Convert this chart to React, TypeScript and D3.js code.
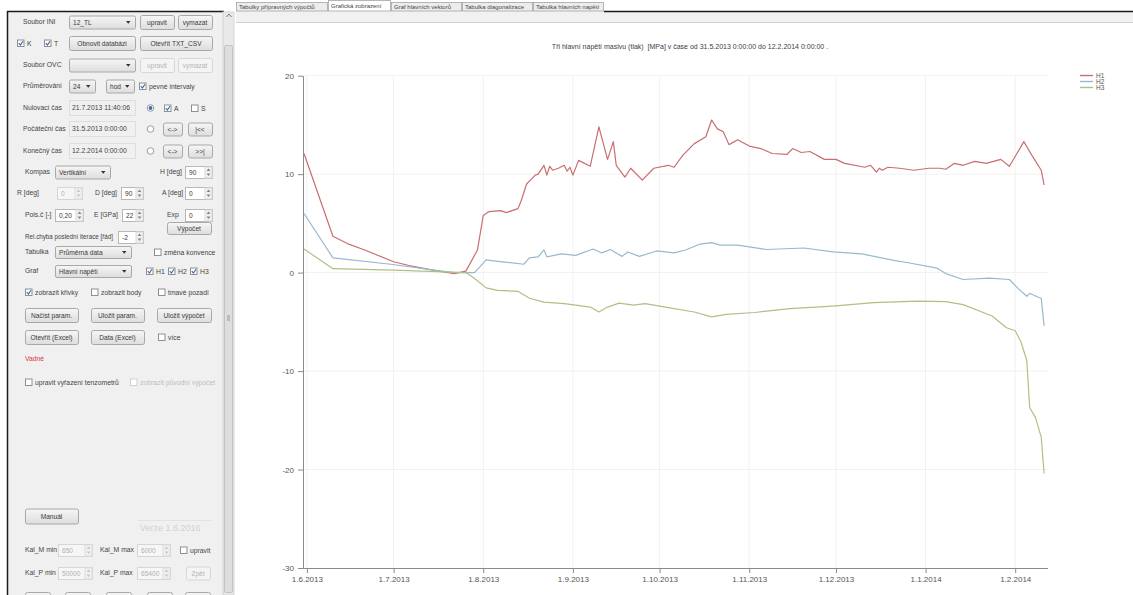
import React, { useEffect, useRef } from "react";
import * as d3 from "d3";

// hlavni napeti [MPa], denni prumery
const H1: [string, number][] = [
  ["2013-05-31", 12.1], ["2013-06-10", 3.7], ["2013-06-15", 2.95], ["2013-06-21", 2.3],
  ["2013-07-01", 1.1], ["2013-07-06", 0.75], ["2013-07-15", 0.23], ["2013-07-22", -0.1],
  ["2013-07-26", 0.15], ["2013-07-30", 2.3], ["2013-08-01", 5.8], ["2013-08-03", 6.2],
  ["2013-08-07", 6.3], ["2013-08-09", 6.1], ["2013-08-13", 6.5], ["2013-08-14", 7.2],
  ["2013-08-16", 9.0], ["2013-08-18", 9.6], ["2013-08-19", 9.9], ["2013-08-20", 10.0],
  ["2013-08-22", 10.9], ["2013-08-23", 9.9], ["2013-08-24", 10.8], ["2013-08-25", 10.4],
  ["2013-08-27", 10.6], ["2013-08-29", 10.9], ["2013-08-30", 10.3], ["2013-08-31", 10.7],
  ["2013-09-01", 9.9], ["2013-09-03", 11.4], ["2013-09-07", 10.8], ["2013-09-10", 14.8],
  ["2013-09-13", 11.5], ["2013-09-15", 13.3], ["2013-09-16", 10.9], ["2013-09-19", 9.7],
  ["2013-09-21", 10.6], ["2013-09-25", 9.4], ["2013-09-29", 10.6], ["2013-10-04", 10.9],
  ["2013-10-06", 10.7], ["2013-10-09", 11.9], ["2013-10-13", 13.1], ["2013-10-17", 13.8],
  ["2013-10-19", 15.5], ["2013-10-21", 14.6], ["2013-10-23", 14.3], ["2013-10-25", 13.0],
  ["2013-10-28", 13.5], ["2013-11-01", 12.85], ["2013-11-05", 12.6], ["2013-11-09", 12.1],
  ["2013-11-14", 12.0], ["2013-11-16", 12.6], ["2013-11-19", 12.2], ["2013-11-22", 12.3],
  ["2013-11-27", 11.5], ["2013-12-01", 11.5], ["2013-12-04", 11.1], ["2013-12-11", 10.7],
  ["2013-12-13", 10.9], ["2013-12-15", 10.2], ["2013-12-16", 10.6], ["2013-12-17", 10.4],
  ["2013-12-19", 10.7], ["2013-12-23", 10.6], ["2013-12-28", 10.4], ["2014-01-02", 10.6],
  ["2014-01-06", 10.6], ["2014-01-08", 10.5], ["2014-01-11", 11.1], ["2014-01-14", 10.9],
  ["2014-01-18", 11.3], ["2014-01-22", 11.1], ["2014-01-27", 11.5], ["2014-01-30", 10.8],
  ["2014-02-04", 13.3], ["2014-02-07", 11.8], ["2014-02-10", 10.4], ["2014-02-11", 8.9],
];

const H2: [string, number][] = [
  ["2013-05-31", 6.0], ["2013-06-10", 1.5], ["2013-06-30", 0.85], ["2013-07-15", 0.25],
  ["2013-07-22", 0.0], ["2013-07-29", 0.0], ["2013-08-02", 1.3], ["2013-08-06", 1.15],
  ["2013-08-15", 0.85], ["2013-08-17", 1.5], ["2013-08-20", 1.6], ["2013-08-22", 2.3],
  ["2013-08-23", 1.6], ["2013-08-28", 1.9], ["2013-09-02", 1.75], ["2013-09-08", 2.4],
  ["2013-09-11", 2.0], ["2013-09-14", 2.35], ["2013-09-16", 2.0], ["2013-09-18", 1.65],
  ["2013-09-20", 2.1], ["2013-09-24", 1.65], ["2013-09-30", 2.2], ["2013-10-06", 2.0],
  ["2013-10-10", 2.3], ["2013-10-15", 2.9], ["2013-10-19", 3.05], ["2013-10-22", 2.8],
  ["2013-10-28", 2.8], ["2013-11-07", 2.35], ["2013-11-20", 2.5], ["2013-11-30", 2.1],
  ["2013-12-10", 1.9], ["2013-12-21", 1.25], ["2013-12-26", 1.0], ["2014-01-05", 0.45],
  ["2014-01-08", -0.1], ["2014-01-14", -0.7], ["2014-01-23", -0.55], ["2014-01-30", -0.7],
  ["2014-02-02", -1.6], ["2014-02-05", -2.4], ["2014-02-06", -2.1], ["2014-02-09", -2.5],
  ["2014-02-10", -2.6], ["2014-02-11", -5.4],
];

const H3: [string, number][] = [
  ["2013-05-31", 2.4], ["2013-06-10", 0.4], ["2013-07-01", 0.25], ["2013-07-26", 0.0],
  ["2013-07-29", -0.6], ["2013-08-02", -1.55], ["2013-08-06", -1.8], ["2013-08-13", -1.9],
  ["2013-08-17", -2.6], ["2013-08-22", -3.0], ["2013-08-29", -3.15], ["2013-09-02", -3.3],
  ["2013-09-07", -3.5], ["2013-09-10", -4.0], ["2013-09-13", -3.5], ["2013-09-17", -3.1],
  ["2013-09-22", -3.3], ["2013-09-26", -3.15], ["2013-10-03", -3.5], ["2013-10-13", -4.0],
  ["2013-10-19", -4.5], ["2013-10-24", -4.25], ["2013-11-03", -4.05], ["2013-11-15", -3.65],
  ["2013-11-27", -3.45], ["2013-12-02", -3.35], ["2013-12-14", -3.05], ["2013-12-29", -2.9],
  ["2014-01-08", -2.95], ["2014-01-14", -3.25], ["2014-01-24", -4.4], ["2014-01-29", -5.6],
  ["2014-02-01", -5.9], ["2014-02-03", -7.05], ["2014-02-05", -8.9], ["2014-02-06", -13.7],
  ["2014-02-08", -14.7], ["2014-02-10", -16.7], ["2014-02-11", -20.4],
];

const SERIES_NAMES = ["H1", "H2", "H3"];
const SERIES_COLORS = ["#cb6c6f", "#97b9ce", "#afc086"];
const Y_TICKS = [-30, -20, -10, 0, 10, 20];
const X_TICKS = [
  "2013-06-01", "2013-07-01", "2013-08-01", "2013-09-01", "2013-10-01",
  "2013-11-01", "2013-12-01", "2014-01-01", "2014-02-01",
];
const X_DOMAIN = ["2013-05-31", "2014-02-12"];
const TITLE =
  "Tři hlavní napětí masivu (tlak)  [MPa] v čase od 31.5.2013 0:00:00 do 12.2.2014 0:00:00 .";
const TABS = [
  "Tabulky přípravných výpočtů",
  "Grafická zobrazení",
  "Graf hlavních vektorů",
  "Tabulka diagonalizace",
  "Tabulka hlavních napětí",
];

const FONT = "'Liberation Sans', Arial, sans-serif";
const W = 1133;
const H = 595;

// --- small windows-like controls for the left panel ---
const Label = ({ x, y, t, c = "#444", s = 6.8, len }: any) => (
  <text x={x} y={y} dy="0.35em" fontSize={s} fill={c} textLength={len} lengthAdjust="spacingAndGlyphs">{t}</text>
);

const Btn = ({ x, y, w, h = 14, t, dis }: any) => (
  <g>
    <rect x={x + 0.5} y={y - h / 2 + 0.5} width={w} height={h} rx={2}
      fill={dis ? "#f4f4f4" : "url(#btnGrad)"} stroke={dis ? "#d6d6d6" : "#a8a8a8"} />
    <text x={x + w / 2} y={y + 0.5} dy="0.35em" textAnchor="middle" fontSize={6.6}
      fill={dis ? "#b4b4b4" : "#3a3a3a"}>{t}</text>
  </g>
);

const Combo = ({ x, y, w, h = 13, t = "" }: any) => (
  <g>
    <rect x={x + 0.5} y={y - h / 2 + 0.5} width={w} height={h} rx={1.5} fill="url(#btnGrad)" stroke="#a8a8a8" />
    <text x={x + 4} y={y + 0.5} dy="0.35em" fontSize={6.6} fill="#3a3a3a">{t}</text>
    <path d={`M${x + w - 9},${y - 1} h4.5 l-2.25,2.8 z`} fill="#333" />
  </g>
);

const Spin = ({ x, y, w, h = 12, t, dis }: any) => (
  <g>
    <rect x={x + 0.5} y={y - h / 2 + 0.5} width={w} height={h} fill={dis ? "#f6f6f6" : "#fff"}
      stroke={dis ? "#d6d6d6" : "#b8b8b8"} />
    <text x={x + 4} y={y + 0.5} dy="0.35em" fontSize={6.6} fill={dis ? "#b0b0b0" : "#3a3a3a"}>{t}</text>
    <rect x={x + w - 7} y={y - h / 2 + 1} width={7} height={h - 1} fill="#f0f0f0" stroke="#dcdcdc" />
    <path d={`M${x + w - 5.5},${y - 1} l2,-2.5 l2,2.5 z M${x + w - 5.5},${y + 1.5} l2,2.5 l2,-2.5 z`}
      fill={dis ? "#c8c8c8" : "#888"} />
  </g>
);

const Check = ({ x, y, on, t, dis }: any) => (
  <g>
    <rect x={x + 0.5} y={y - 3} width={6.5} height={6.5} fill="#fff" stroke={dis ? "#d0d0d0" : "#8e8f8f"} />
    {on && <path d={`M${x + 1.8},${y + 0.2} l1.6,1.8 l2.6,-3.8`} fill="none" stroke="#3a66ad" strokeWidth={1.1} />}
    {t && <Label x={x + 10} y={y + 0.2} t={t} c={dis ? "#bdbdbd" : "#444"} />}
  </g>
);

const Radio = ({ x, y, on }: any) => (
  <g>
    <circle cx={x + 3.5} cy={y} r={3.3} fill="#fff" stroke="#9a9a9a" />
    {on && <circle cx={x + 3.5} cy={y} r={1.9} fill="#3a6fb5" />}
  </g>
);

const Field = ({ x, y, w, t }: any) => (
  <g>
    <rect x={x + 0.5} y={y - 7.5} width={w} height={15} fill="none" stroke="#dedede" />
    <Label x={x + 3} y={y} t={t} />
  </g>
);

const LeftPanel = () => (
  <g fontFamily={FONT}>
    <rect x={7} y={12} width={216} height={H - 12} fill="#f0f0f0" />
    <line x1={7} y1={11.5} x2={224} y2={11.5} stroke="#1a1a1a" strokeWidth={1.5} />
    <line x1={7.5} y1={11} x2={7.5} y2={H} stroke="#1a1a1a" strokeWidth={1.5} />

    {/* row 1 */}
    <Label x={23} y={22} t="Soubor INI" />
    <Combo x={69} y={22} w={66} t="12_TL" />
    <Btn x={140} y={22} w={34} t="upravit" />
    <Btn x={178} y={22} w={34} t="vymazat" />
    {/* row 2 */}
    <Check x={17} y={43} on t="K" />
    <Check x={44} y={43} on t="T" />
    <Btn x={69} y={43} w={66} t="Obnovit databázi" />
    <Btn x={140} y={43} w={72} t="Otevřít TXT_CSV" />
    {/* row 3 */}
    <Label x={23} y={65} t="Soubor OVC" />
    <Combo x={69} y={65} w={66} t="" />
    <Btn x={140} y={65} w={34} t="upravit" dis />
    <Btn x={178} y={65} w={34} t="vymazat" dis />
    {/* row 4 */}
    <Label x={23} y={86} t="Průměrování" />
    <Combo x={69} y={86} w={26} t="24" />
    <Combo x={106} y={86} w={28} t="hod" />
    <Check x={139} y={86} on t="pevné intervaly" />
    {/* row 5-7 */}
    <Label x={23} y={108} t="Nulovací čas" />
    <Field x={69} y={108} w={66} t="21.7.2013 11:40:06" />
    <Radio x={147} y={108} on />
    <Check x={164} y={108} on t="A" />
    <Check x={191} y={108} t="S" />
    <Label x={23} y={129} t="Počáteční čas" />
    <Field x={69} y={129} w={66} t="31.5.2013 0:00:00" />
    <Radio x={147} y={129} />
    <Btn x={163} y={129} w={19} h={13} t="<->" />
    <Btn x={188} y={129} w={24} h={13} t="|<<" />
    <Label x={23} y={151} t="Konečný čas" />
    <Field x={69} y={151} w={66} t="12.2.2014 0:00:00" />
    <Radio x={147} y={151} />
    <Btn x={163} y={151} w={19} h={13} t="<->" />
    <Btn x={188} y={151} w={24} h={13} t=">>|" />
    {/* row 8 */}
    <Label x={25} y={172} t="Kompas" />
    <Combo x={55} y={172} w={55} t="Vertikální" />
    <Label x={160} y={172} t="H [deg]" />
    <Spin x={185} y={172} w={27} t="90" />
    {/* row 9 */}
    <Label x={17} y={193} t="R [deg]" />
    <Spin x={57} y={193} w={25} t="0" dis />
    <Label x={95} y={193} t="D [deg]" />
    <Spin x={121} y={193} w={22} t="90" />
    <Label x={162} y={193} t="A [deg]" />
    <Spin x={185} y={193} w={27} t="0" />
    {/* row 10 */}
    <Label x={25} y={215} t="Pois.č [-]" />
    <Spin x={55} y={215} w={28} t="0,20" />
    <Label x={94} y={215} t="E [GPa]" />
    <Spin x={122} y={215} w={21} t="22" />
    <Label x={167} y={215} t="Exp" />
    <Spin x={185} y={215} w={27} t="0" />
    {/* row 11 */}
    <Label x={25} y={237} t="Rel.chyba poslední iterace [řád]" len={88} />
    <Spin x={118} y={237} w={25} t="-2" />
    <Btn x={167} y={228} w={44} h={12} t="Výpočet" />
    {/* row 12-13 */}
    <Label x={25} y={252} t="Tabulka" />
    <Combo x={55} y={252} w={76} h={12} t="Průměrná data" />
    <Check x={154} y={252} t="změna konvence" />
    <Label x={25} y={271} t="Graf" />
    <Combo x={55} y={271} w={76} h={12} t="Hlavní napětí" />
    <Check x={146} y={271} on t="H1" />
    <Check x={168} y={271} on t="H2" />
    <Check x={190} y={271} on t="H3" />
    {/* row 14 */}
    <Check x={25} y={292} on t="zobrazit křivky" />
    <Check x={91} y={292} t="zobrazit body" />
    <Check x={158} y={292} t="tmavé pozadí" />
    {/* row 15-16 */}
    <Btn x={25} y={315} w={53} t="Načíst param." />
    <Btn x={91} y={315} w={53} t="Uložit param." />
    <Btn x={157} y={315} w={54} t="Uložit výpočet" />
    <Btn x={25} y={337} w={53} t="Otevřít (Excel)" />
    <Btn x={91} y={337} w={53} t="Data (Excel)" />
    <Check x={158} y={337} t="více" />
    {/* row 17-18 */}
    <Label x={25} y={359} t="Vadné" c="#e0393e" />
    <Check x={25} y={382} t="upravit vyřazení tenzometrů" />
    <Check x={130} y={382} t="zobrazit původní výpočet" dis />

    {/* bottom */}
    <Btn x={25} y={516} w={53} h={15} t="Manuál" />
    <line x1={138} y1={520.5} x2={212} y2={520.5} stroke="#e2e2e2" />
    <text x={140} y={528} dy="0.35em" fontSize={9} fill="#d0d0d0">Verze 1.6.2016</text>
    <Label x={25} y={550} t="Kal_M min" />
    <Spin x={58} y={550} w={34} t="650" dis />
    <Label x={100} y={550} t="Kal_M max" />
    <Spin x={137} y={550} w={33} t="6000" dis />
    <Check x={180} y={550} t="upravit" />
    <Label x={25} y={573} t="Kal_P min" />
    <Spin x={58} y={573} w={34} t="50000" dis />
    <Label x={100} y={573} t="Kal_P max" />
    <Spin x={137} y={573} w={33} t="65400" dis />
    <Btn x={186} y={573} w={24} h={13} t="Zpět" dis />
    {[25, 65, 106, 147, 185].map((bx) => (
      <rect key={bx} x={bx + 0.5} y={592.5} width={25} height={12} rx={2} fill="url(#btnGrad)" stroke="#a8a8a8" />
    ))}

    {/* scrollbar of the panel */}
    <rect x={223} y={12} width={11} height={H - 12} fill="#e9e9e9" stroke="#d4d4d4" />
    <path d="M226.5,17 l2.5,-3 l2.5,3" fill="none" stroke="#777" />
    <rect x={224.5} y={45.5} width={8} height={547} rx={1.5} fill="#dedede" stroke="#c2c2c2" />
    <line x1={227} y1={316} x2={230} y2={316} stroke="#999" />
    <line x1={227} y1={318} x2={230} y2={318} stroke="#999" />
    <line x1={227} y1={320} x2={230} y2={320} stroke="#999" />
  </g>
);

const TabStrip = () => {
  const edges = [236, 328, 391, 462, 533, 604];
  return (
    <g fontFamily={FONT}>
      <rect x={236} y={11} width={W - 236} height={12} fill="#f1f1f1" />
      <line x1={604} y1={11.5} x2={W} y2={11.5} stroke="#1a1a1a" strokeWidth={1.5} />
      <line x1={236} y1={22.5} x2={W} y2={22.5} stroke="#d0d0d0" />
      {TABS.map((t, i) => {
        const sel = i === 1;
        const x0 = edges[i];
        const x1 = edges[i + 1];
        return (
          <g key={t}>
            <rect x={x0 + 0.5} y={sel ? 0.5 : 2.5} width={x1 - x0 - 1} height={sel ? 10.5 : 8.5}
              fill={sel ? "#ffffff" : "#ececec"} stroke="#a5a5a5" strokeWidth={0.8} />
            <text x={x0 + 3} y={sel ? 5.5 : 7} dy="0.35em" fontSize={6} fill="#444">{t}</text>
          </g>
        );
      })}
    </g>
  );
};

const Chart = () => {
  const gRef = useRef<SVGGElement>(null);

  useEffect(() => {
    const parse = d3.timeParse("%Y-%m-%d");
    const g = d3.select(gRef.current);
    g.selectAll("*").remove();

    const x = d3.scaleTime()
      .domain(X_DOMAIN.map((d) => parse(d) as Date))
      .range([304, 1047]);
    const y = d3.scaleLinear().domain([-30, 20]).range([568, 75.7]);
    const xTicks = X_TICKS.map((d) => parse(d) as Date);

    // grid
    g.append("g")
      .selectAll("line")
      .data(xTicks)
      .enter()
      .append("line")
      .attr("x1", (d) => x(d))
      .attr("x2", (d) => x(d))
      .attr("y1", y(20))
      .attr("y2", y(-30))
      .attr("stroke", "#f1f1f1");
    g.append("g")
      .selectAll("line")
      .data(Y_TICKS.filter((d) => d !== -30))
      .enter()
      .append("line")
      .attr("x1", 303)
      .attr("x2", 1048)
      .attr("y1", (d) => y(d))
      .attr("y2", (d) => y(d))
      .attr("stroke", "#f1f1f1");

    // axes
    const yAxis = g.append("g")
      .attr("transform", "translate(303,0)")
      .call(
        d3.axisLeft(y)
          .tickValues(Y_TICKS)
          .tickSize(5)
          .tickSizeOuter(0)
          .tickPadding(4)
          .tickFormat((d) => String(d))
      );
    const xAxis = g.append("g")
      .attr("transform", `translate(0,${y(-30)})`)
      .call(
        d3.axisBottom(x)
          .tickValues(xTicks)
          .tickSize(5)
          .tickSizeOuter(0)
          .tickPadding(3)
          .tickFormat((d) => d3.timeFormat("%-d.%-m.%Y")(d as Date))
      );
    xAxis.select(".domain").attr("d", "M303,0.5H1048");
    [yAxis, xAxis].forEach((a) => {
      a.select(".domain").attr("stroke", "#8a8a8a");
      a.selectAll(".tick line").attr("stroke", "#8a8a8a");
      a.selectAll(".tick text")
        .attr("fill", "#555")
        .style("font-size", "8px")
        .style("font-family", FONT);
    });

    // series
    const line = d3.line<[string, number]>()
      .x((d) => x(parse(d[0]) as Date))
      .y((d) => y(d[1]));
    [H1, H2, H3].forEach((s, i) => {
      g.append("path")
        .datum(s)
        .attr("d", line)
        .attr("fill", "none")
        .attr("stroke", SERIES_COLORS[i])
        .attr("stroke-width", 1.2)
        .attr("stroke-linejoin", "round");
    });

    // title
    g.append("text")
      .attr("x", 690)
      .attr("y", 47)
      .attr("dy", "0.35em")
      .attr("text-anchor", "middle")
      .attr("fill", "#404040")
      .style("font-size", "7px")
      .style("font-family", FONT)
      .style("white-space", "pre")
      .text(TITLE);

    // legend
    const leg = g.append("g").attr("transform", "translate(1080,75.5)");
    SERIES_NAMES.forEach((n, i) => {
      leg.append("line")
        .attr("x1", 0)
        .attr("x2", 13)
        .attr("y1", i * 6)
        .attr("y2", i * 6)
        .attr("stroke", SERIES_COLORS[i])
        .attr("stroke-width", 1.4);
      leg.append("text")
        .attr("x", 16)
        .attr("y", i * 6)
        .attr("dy", "0.35em")
        .attr("fill", "#555")
        .style("font-size", "6.5px")
        .style("font-family", FONT)
        .text(n);
    });
  }, []);

  return <g ref={gRef} />;
};

export default function App() {
  return (
    <svg width={W} height={H} style={{ position: "fixed", left: 0, top: 0, background: "#fff" }}>
      <defs>
        <linearGradient id="btnGrad" x1="0" y1="0" x2="0" y2="1">
          <stop offset="0" stopColor="#f6f6f6" />
          <stop offset="1" stopColor="#dddddd" />
        </linearGradient>
      </defs>
      <rect width={W} height={H} fill="#fff" />
      <LeftPanel />
      <TabStrip />
      <Chart />
    </svg>
  );
}
